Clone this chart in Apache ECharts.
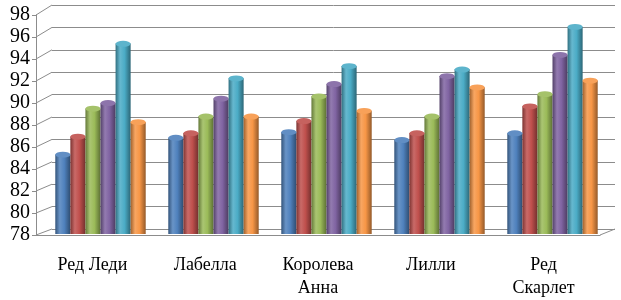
<!DOCTYPE html>
<html>
<head>
<meta charset="utf-8">
<script src="https://cdn.jsdelivr.net/npm/echarts@6/dist/echarts.min.js"></script>
<style>
  html, body { margin: 0; padding: 0; background: #fff; }
  #chart { width: 621px; height: 300px; }
</style>
</head>
<body>
<div id="chart"></div>
<script>
var categories = ['Ред Леди', 'Лабелла', 'Королева\nАнна', 'Лилли', 'Ред\nСкарлет'];
var yTicks = [78, 80, 82, 84, 86, 88, 90, 92, 94, 96, 98];

var s1 = [85.1, 86.6, 87.1, 86.4, 87.0];
var s2 = [86.7, 87.0, 88.1, 87.0, 89.4];
var s3 = [89.2, 88.5, 90.3, 88.5, 90.5];
var s4 = [89.7, 90.1, 91.4, 92.1, 94.0];
var s5 = [95.0, 91.9, 93.0, 92.7, 96.5];
var s6 = [88.0, 88.5, 89.0, 91.1, 91.7];

var seriesData = [s1, s2, s3, s4, s5, s6];
var seriesNames = ['Ряд 1', 'Ряд 2', 'Ряд 3', 'Ряд 4', 'Ряд 5', 'Ряд 6'];
var colors = ['#4F81BD', '#C0504D', '#9BBB59', '#8064A2', '#4BACC6', '#F79646'];

var chart = echarts.init(document.getElementById('chart'));

// lighten (f>0) / darken (f<0) a hex colour
function shade(hex, f) {
  var n = parseInt(hex.slice(1), 16);
  var c = [(n >> 16) & 255, (n >> 8) & 255, n & 255].map(function (v) {
    v = f > 0 ? v + (255 - v) * f : v * (1 + f);
    return Math.round(v);
  });
  return 'rgb(' + c.join(',') + ')';
}

function cylinder(col) {
  return new echarts.graphic.LinearGradient(0, 0, 1, 0, [
    { offset: 0, color: shade(col, -0.35) },
    { offset: 0.3, color: shade(col, 0.15) },
    { offset: 0.6, color: col },
    { offset: 1, color: shade(col, -0.4) }
  ]);
}

var gridLine = '#8c8c8c';
var series = [];
seriesData.forEach(function (d, i) {
  series.push({
    name: seriesNames[i],
    type: 'bar',
    xAxisIndex: 1,
    yAxisIndex: 1,
    data: d,
    barGap: '0%',
    barCategoryGap: '20%',
    itemStyle: { color: cylinder(colors[i]) },
    z: 3
  });
});
// elliptical tops of the cylinders
seriesData.forEach(function (d, i) {
  series.push({
    name: seriesNames[i],
    type: 'pictorialBar',
    xAxisIndex: 1,
    yAxisIndex: 1,
    data: d,
    barGap: '0%',
    barCategoryGap: '20%',
    symbol: 'circle',
    symbolSize: ['100%', 6],
    symbolPosition: 'end',
    symbolOffset: [0, '-50%'],
    itemStyle: { color: shade(colors[i], 0.1), borderColor: shade(colors[i], -0.3), borderWidth: 0.5 },
    z: 4
  });
});

var font = '"Liberation Serif", "Times New Roman", serif';

var option = {
  animation: false,
  backgroundColor: '#fff',
  grid: [
    { left: 52, right: 6, top: 5, bottom: 71 },   // back wall
    { left: 44, right: 12, top: 10, bottom: 66 }, // bars (mid depth)
    { left: 36, right: 21, top: 15, bottom: 61 }  // front axes
  ],
  xAxis: [
    { gridIndex: 0, type: 'category', data: categories, show: false },
    { gridIndex: 1, type: 'category', data: categories, show: false },
    {
      gridIndex: 2, type: 'category', data: categories,
      axisLine: { lineStyle: { color: gridLine } },
      axisTick: { length: 6, lineStyle: { color: gridLine } },
      axisLabel: { color: '#000', fontFamily: font, fontSize: 18, lineHeight: 23, margin: 19 }
    }
  ],
  yAxis: [
    {
      gridIndex: 0, type: 'value', min: 78, max: 98, interval: 2,
      axisLine: { show: false }, axisTick: { show: false }, axisLabel: { show: false },
      splitLine: { lineStyle: { color: gridLine, width: 1 } }
    },
    { gridIndex: 1, type: 'value', min: 78, max: 98, interval: 2, show: false, splitLine: { show: false } },
    {
      gridIndex: 2, type: 'value', min: 78, max: 98, interval: 2,
      axisLine: { show: true, lineStyle: { color: gridLine } },
      axisTick: { show: true, length: 4, lineStyle: { color: gridLine } },
      axisLabel: { color: '#000', fontFamily: font, fontSize: 20, margin: 6 },
      splitLine: { show: false }
    }
  ],
  series: series
};
chart.setOption(option);

// diagonals joining the front axis to the back wall (3D look)
var g = [];
yTicks.forEach(function (v) {
  var yf = chart.convertToPixel({ yAxisIndex: 2 }, v);
  var yb = chart.convertToPixel({ yAxisIndex: 0 }, v);
  g.push({ type: 'line', shape: { x1: 36, y1: yf, x2: 52, y2: yb }, style: { stroke: gridLine, lineWidth: 1 }, z: 0 });
});
var yf0 = chart.convertToPixel({ yAxisIndex: 2 }, 78);
var yb0 = chart.convertToPixel({ yAxisIndex: 0 }, 78);
g.push({ type: 'line', shape: { x1: 600, y1: yf0, x2: 615, y2: yb0 }, style: { stroke: gridLine, lineWidth: 1 }, z: 0 });
chart.setOption({ graphic: g });
</script>
</body>
</html>
